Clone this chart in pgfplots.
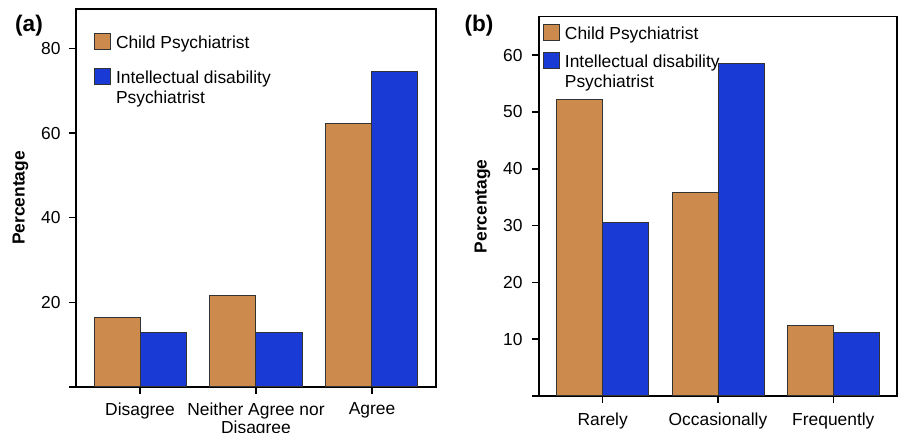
\documentclass[border=0pt]{standalone}
\usepackage{fontspec}
\setmainfont{Liberation Sans}
\usepackage{pgfplots}
\pgfplotsset{compat=1.18}
\definecolor{cporange}{RGB}{205,138,77}
\definecolor{idblue}{RGB}{26,58,214}
\newcommand{\tf}{\fontsize{8.7}{8.9}\selectfont}
\pgfplotsset{
  common/.style={
    scale only axis,
    anchor=south west,
    ybar=0pt, bar width=23pt,
    ymin=0,
    axis line style={line width=0.9pt, black},
    tick style={line width=0.8pt, black},
    major tick length=3.5pt,
    tick align=outside,
    xtick pos=left, ytick pos=left,
    xtick={0,1,2},
    /pgf/number format/assume math mode=true,
    tick label style={font=\tf, inner sep=0pt},
    xticklabel style={align=center},
    xticklabel shift=4.2pt,
    yticklabel shift=4pt,
    ylabel style={rotate=0, anchor=center, font=\bfseries\tf},
    legend image code/.code={\draw[##1] (0pt,-0.5pt) rectangle (8pt,7.5pt);},
    legend style={anchor=north west, draw=none, fill=none, inner sep=0pt, outer sep=0pt,
      column sep=2.5pt, font=\fontsize{8.7}{10}\selectfont,
      cells={anchor=base west},
      nodes={inner sep=0pt, text height=6.2pt, text depth=2pt}},
  },
}
\begin{document}
\begin{tikzpicture}
\useasboundingbox (0,0) rectangle (450.5pt,216.5pt);
\node[font=\bfseries\fontsize{11.3}{12}\selectfont] at (14.5pt,203.5pt) {(a)};
\node[font=\bfseries\fontsize{11.3}{12}\selectfont] at (239.5pt,203.5pt) {(b)};
\begin{axis}[common,
  at={(38pt,23pt)}, width=180pt, height=189pt,
  xmin=-0.552, xmax=2.552, ymax=89.3,
  ytick={0,20,40,60,80}, yticklabels={,20,40,60,80},
  xticklabels={Disagree,{Neither Agree nor\\Disagree},Agree},
  ylabel={Percentage},
  ylabel style={at={(axis description cs:-0.154,0.5)}},
  legend style={at={(axis description cs:0.05,0.937)}, row sep=7.6pt}]
\addplot[fill=cporange, draw=black!80, line width=0.5pt] coordinates {(0,16.5) (1,21.5) (2,62.2)};
\addplot[fill=idblue, draw=black!80, line width=0.5pt] coordinates {(0,12.8) (1,12.8) (2,74.6)};
\addlegendentry{Child Psychiatrist}
\addlegendentry{\begin{tabular}[t]{@{}l@{}}Intellectual disability\\Psychiatrist\end{tabular}}
\end{axis}
\begin{axis}[common,
  at={(269.5pt,18.5pt)}, width=179pt, height=189.75pt,
  xmin=-0.552, xmax=2.552, ymax=66.8,
  ytick={0,10,20,30,40,50,60}, yticklabels={,10,20,30,40,50,60},
  xticklabels={Rarely,Occasionally,Frequently},
  xticklabel shift=4.7pt, yticklabel shift=4.5pt,
  ylabel={Percentage},
  ylabel style={at={(axis description cs:-0.158,0.5)}},
  legend style={at={(axis description cs:0.011,0.980)}, row sep=4.4pt}]
\addplot[fill=cporange, draw=black!80, line width=0.5pt] coordinates {(0,52.2) (1,35.8) (2,12.4)};
\addplot[fill=idblue, draw=black!80, line width=0.5pt] coordinates {(0,30.5) (1,58.6) (2,11.1)};
\addlegendentry{Child Psychiatrist}
\addlegendentry{\begin{tabular}[t]{@{}l@{}}Intellectual disability\\Psychiatrist\end{tabular}}
\end{axis}
\end{tikzpicture}
\end{document}
